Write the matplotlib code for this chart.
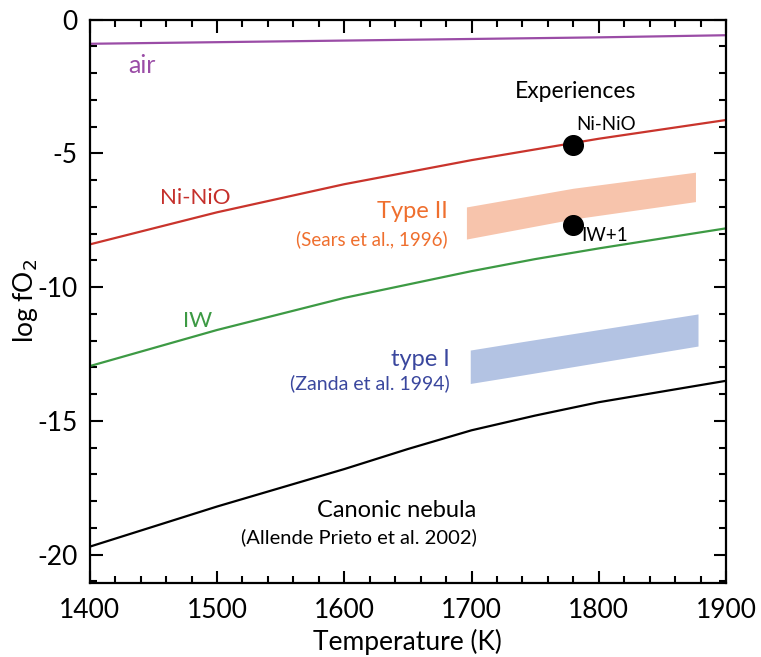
import matplotlib
matplotlib.use("Agg")
import matplotlib.pyplot as plt
from matplotlib.ticker import MultipleLocator

plt.rcParams['font.family'] = ['Lato', 'DejaVu Sans']
plt.rcParams['axes.unicode_minus'] = False

# temperature grid (K) and buffer curves (log fO2)
temps = [1400, 1500, 1600, 1650, 1700, 1750, 1800, 1900]
air = [-0.9, -0.84, -0.78, -0.75, -0.72, -0.69, -0.66, -0.58]
ni_nio = [-8.4, -7.2, -6.15, -5.7, -5.25, -4.85, -4.45, -3.75]
iw = [-12.95, -11.6, -10.4, -9.9, -9.4, -8.95, -8.55, -7.8]
nebula = [-19.7, -18.2, -16.8, -16.05, -15.35, -14.8, -14.3, -13.5]

# chondrule ranges (bands)
type2_t = [1696, 1780, 1876]
type2_top = [-7.0, -6.3, -5.7]
type2_bot = [-8.2, -7.45, -6.8]
type1_t = [1699, 1738, 1878]
type1_top = [-12.35, -12.05, -11.0]
type1_bot = [-13.6, -13.3, -12.2]

# experiment points
exp_t = [1780, 1780]
exp_f = [-4.7, -7.66]
exp_lab = ["Ni-NiO", "IW+1"]

fig = plt.figure(figsize=(7.61, 6.57), dpi=100)
ax = fig.add_axes([0.118, 0.113, 0.836, 0.857])

ax.fill_between(type2_t, type2_bot, type2_top, color='#f7c4ac', lw=0)
ax.fill_between(type1_t, type1_bot, type1_top, color='#b3c3e3', lw=0)

ax.plot(temps, air, color='#9a4ca6', lw=1.6)
ax.plot(temps, ni_nio, color='#c9342c', lw=1.6)
ax.plot(temps, iw, color='#3d9a44', lw=1.6)
ax.plot(temps, nebula, color='black', lw=1.6)

ax.scatter(exp_t, exp_f, s=200, color='black', zorder=5)
ax.text(1806, -3.93, exp_lab[0], fontsize=13.5, ha='center', va='center')
ax.text(1805, -8.05, exp_lab[1], fontsize=13.5, ha='center', va='center')

ax.text(1441, -1.72, "air", color='#9a4ca6', fontsize=18, ha='center', va='center')
ax.text(1782, -2.7, "Experiences", fontsize=16.5, ha='center', va='center')
ax.text(1483, -6.65, "Ni-NiO", color='#c5302c', fontsize=16, ha='center', va='center')
ax.text(1681, -7.18, "Type II", color='#ef6f2e', fontsize=17, ha='right', va='center')
ax.text(1681, -8.22, "(Sears et al., 1996)", color='#ef6f2e', fontsize=13.5, ha='right', va='center')
ax.text(1485, -11.25, "IW", color='#3d9a44', fontsize=16, ha='center', va='center')
ax.text(1683, -12.7, "type I", color='#3a479e', fontsize=17, ha='right', va='center')
ax.text(1683, -13.6, "(Zanda et al. 1994)", color='#3a479e', fontsize=14, ha='right', va='center')
ax.text(1704, -18.35, "Canonic nebula", fontsize=17, ha='right', va='center')
ax.text(1704, -19.33, "(Allende Prieto et al. 2002)", fontsize=14.5, ha='right', va='center')

ax.set_xlim(1400, 1900)
ax.set_ylim(-21.05, 0)
ax.xaxis.set_major_locator(MultipleLocator(100))
ax.xaxis.set_minor_locator(MultipleLocator(20))
ax.yaxis.set_major_locator(MultipleLocator(5))
ax.yaxis.set_minor_locator(MultipleLocator(1))
ax.tick_params(which='both', direction='in', top=True, right=True, width=1.5, labelsize=19)
ax.tick_params(axis='x', pad=11)
ax.tick_params(axis='y', pad=9)
ax.tick_params(which='major', length=9)
ax.tick_params(which='minor', length=5)
for s in ax.spines.values():
    s.set_linewidth(1.6)

ax.set_xlabel("Temperature (K)", fontsize=19, labelpad=4)
ax.set_ylabel("log fO$_2$", fontsize=19, labelpad=-2)

fig.savefig("out.png", dpi=100)
